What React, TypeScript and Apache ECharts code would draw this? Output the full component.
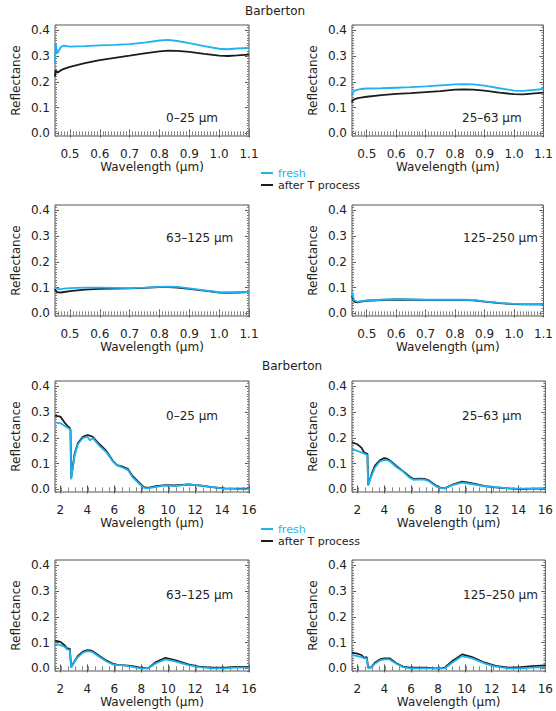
import React, { useEffect, useRef } from "react";
import * as echarts from "echarts";

// ---------- data ----------
const visX = [0.45, 0.452, 0.458, 0.47, 0.48, 0.5, 0.55, 0.6, 0.65, 0.7, 0.75, 0.8, 0.83, 0.86, 0.9, 0.95, 1.0, 1.03, 1.06, 1.1];
const fresh_0_25_vis = [0.27, 0.35, 0.31, 0.335, 0.34, 0.336, 0.338, 0.341, 0.343, 0.346, 0.352, 0.36, 0.362, 0.358, 0.35, 0.338, 0.328, 0.326, 0.329, 0.331];
const after_0_25_vis = [0.22, 0.245, 0.235, 0.245, 0.25, 0.258, 0.272, 0.284, 0.293, 0.301, 0.31, 0.318, 0.321, 0.32, 0.316, 0.308, 0.301, 0.3, 0.302, 0.305];
const fresh_25_63_vis = [0.145, 0.155, 0.165, 0.17, 0.172, 0.174, 0.175, 0.177, 0.179, 0.182, 0.186, 0.19, 0.191, 0.19, 0.185, 0.175, 0.166, 0.165, 0.168, 0.172];
const after_25_63_vis = [0.12, 0.128, 0.132, 0.137, 0.139, 0.142, 0.148, 0.153, 0.156, 0.16, 0.164, 0.17, 0.171, 0.17, 0.166, 0.158, 0.152, 0.151, 0.154, 0.158];
const fresh_63_125_vis = [0.1, 0.098, 0.095, 0.094, 0.096, 0.098, 0.1, 0.1, 0.099, 0.098, 0.1, 0.103, 0.104, 0.103, 0.097, 0.089, 0.082, 0.081, 0.082, 0.083];
const after_63_125_vis = [0.095, 0.088, 0.082, 0.081, 0.083, 0.086, 0.092, 0.095, 0.096, 0.097, 0.099, 0.102, 0.102, 0.1, 0.095, 0.088, 0.081, 0.08, 0.081, 0.083];
const fresh_125_250_vis = [0.085, 0.07, 0.05, 0.045, 0.048, 0.05, 0.053, 0.055, 0.054, 0.053, 0.053, 0.053, 0.053, 0.052, 0.047, 0.041, 0.037, 0.036, 0.035, 0.035];
const after_125_250_vis = [0.07, 0.06, 0.045, 0.043, 0.046, 0.049, 0.052, 0.054, 0.053, 0.052, 0.052, 0.052, 0.052, 0.051, 0.046, 0.04, 0.036, 0.035, 0.035, 0.035];

const irX = [1.6, 2.0, 2.3, 2.5, 2.7, 2.75, 2.8, 3.05, 3.3, 3.67, 4.0, 4.2, 4.4, 4.9, 5.4, 5.9, 6.2, 6.6, 7.0, 7.35, 7.85, 8.2, 8.5, 9.1, 9.8, 10.5, 11.5, 12.3, 13.25, 14.2, 15, 16];
const after_0_25_ir = [0.286, 0.282, 0.26, 0.247, 0.238, 0.23, 0.045, 0.136, 0.18, 0.204, 0.21, 0.208, 0.204, 0.175, 0.15, 0.11, 0.094, 0.088, 0.08, 0.052, 0.026, 0.009, 0.006, 0.013, 0.017, 0.016, 0.019, 0.016, 0.009, 0.004, 0.003, 0.003];
const fresh_0_25_ir = [0.26, 0.256, 0.247, 0.24, 0.234, 0.228, 0.039, 0.13, 0.175, 0.199, 0.204, 0.19, 0.199, 0.169, 0.145, 0.108, 0.093, 0.085, 0.076, 0.048, 0.022, 0.006, 0.004, 0.01, 0.016, 0.013, 0.019, 0.016, 0.009, 0.003, 0.002, 0.001];
const after_25_63_ir = [0.182, 0.175, 0.162, 0.143, 0.139, 0.138, 0.016, 0.058, 0.091, 0.113, 0.121, 0.119, 0.113, 0.091, 0.071, 0.049, 0.04, 0.042, 0.041, 0.034, 0.015, 0.006, 0.004, 0.019, 0.03, 0.024, 0.013, 0.008, 0.004, 0.001, 0.003, 0.003];
const fresh_25_63_ir = [0.156, 0.149, 0.143, 0.139, 0.134, 0.133, 0.017, 0.052, 0.084, 0.108, 0.114, 0.113, 0.11, 0.087, 0.069, 0.045, 0.037, 0.039, 0.038, 0.031, 0.012, 0.005, 0.004, 0.017, 0.026, 0.021, 0.012, 0.009, 0.004, 0.003, 0.003, 0.003];
const after_63_125_ir = [0.108, 0.103, 0.09, 0.077, 0.077, 0.077, 0.005, 0.028, 0.048, 0.065, 0.071, 0.07, 0.067, 0.048, 0.031, 0.018, 0.015, 0.013, 0.011, 0.009, 0.004, 0.002, 0.0, 0.025, 0.041, 0.032, 0.016, 0.007, 0.003, 0.003, 0.006, 0.006];
const fresh_63_125_ir = [0.095, 0.09, 0.084, 0.074, 0.071, 0.071, 0.003, 0.026, 0.044, 0.061, 0.067, 0.066, 0.063, 0.044, 0.028, 0.015, 0.013, 0.013, 0.009, 0.006, 0.001, 0.0, 0.0, 0.02, 0.035, 0.027, 0.013, 0.005, 0.0, 0.0, 0.003, 0.003];
const after_125_250_ir = [0.061, 0.057, 0.052, 0.041, 0.044, 0.044, 0.003, 0.005, 0.022, 0.035, 0.039, 0.039, 0.039, 0.02, 0.007, 0.003, 0.003, 0.003, 0.003, 0.002, 0.0, 0.0, 0.003, 0.03, 0.054, 0.045, 0.022, 0.01, 0.003, 0.005, 0.009, 0.012];
const fresh_125_250_ir = [0.052, 0.048, 0.044, 0.039, 0.039, 0.039, 0.0, 0.003, 0.018, 0.031, 0.035, 0.035, 0.035, 0.018, 0.005, 0.0, 0.0, 0.0, 0.0, 0.0, 0.0, 0.0, 0.0, 0.024, 0.048, 0.04, 0.019, 0.007, 0.0, 0.0, 0.003, 0.005];

const sizeLabels = ["0\u201325 \u03bcm", "25\u201363 \u03bcm", "63\u2013125 \u03bcm", "125\u2013250 \u03bcm"];
const visTicks = [0.5, 0.6, 0.7, 0.8, 0.9, 1.0, 1.1];
const irTicks = [2, 4, 6, 8, 10, 12, 14, 16];
const yTicks = [0.0, 0.1, 0.2, 0.3, 0.4];
const seriesNames = ["fresh", "after T process"];
const siteName = "Barberton";

// ---------- styles ----------
const CYAN = "#1EB2F2";
const BLACK = "#1c1c1c";
const FRAME = "#555";
const FONT = "DejaVu Sans";

const panels = [
  { x: visX, fresh: fresh_0_25_vis, after: after_0_25_vis, label: sizeLabels[0], vis: true, left: 55, top: 25, lx: 166, ly: 119 },
  { x: visX, fresh: fresh_25_63_vis, after: after_25_63_vis, label: sizeLabels[1], vis: true, left: 352, top: 25, lx: 462, ly: 119 },
  { x: visX, fresh: fresh_63_125_vis, after: after_63_125_vis, label: sizeLabels[2], vis: true, left: 55, top: 205, lx: 166, ly: 239 },
  { x: visX, fresh: fresh_125_250_vis, after: after_125_250_vis, label: sizeLabels[3], vis: true, left: 352, top: 205, lx: 463, ly: 239 },
  { x: irX, fresh: fresh_0_25_ir, after: after_0_25_ir, label: sizeLabels[0], vis: false, left: 55, top: 381, lx: 166, ly: 417 },
  { x: irX, fresh: fresh_25_63_ir, after: after_25_63_ir, label: sizeLabels[1], vis: false, left: 352, top: 381, lx: 462, ly: 417 },
  { x: irX, fresh: fresh_63_125_ir, after: after_63_125_ir, label: sizeLabels[2], vis: false, left: 55, top: 560, lx: 166, ly: 596 },
  { x: irX, fresh: fresh_125_250_ir, after: after_125_250_ir, label: sizeLabels[3], vis: false, left: 352, top: 560, lx: 463, ly: 596 },
];

function buildOption() {
  const grid: any[] = [];
  const xAxis: any[] = [];
  const yAxis: any[] = [];
  const series: any[] = [];
  const graphic: any[] = [];

  panels.forEach((p, i) => {
    grid.push({
      left: p.left, top: p.top, width: 194, height: 111,
      show: true, borderColor: FRAME, borderWidth: 1, backgroundColor: "transparent",
    });
    const xmin = p.vis ? 0.45 : 1.6;
    const xmax = p.vis ? 1.1 : 16;
    const minor = p.vis ? 0.01 : 0.5;
    const majors = p.vis ? visTicks : irTicks;
    const ymin = -0.01, ymax = 0.42;

    const xMain = (pos: string, withLabel: boolean) => ({
      type: "value", gridIndex: i, min: xmin, max: xmax, position: pos, offset: 0,
      axisLine: { show: false },
      axisTick: { show: true, inside: true, length: 4, customValues: majors, lineStyle: { color: FRAME } },
      axisLabel: {
        show: withLabel, customValues: majors, margin: 12, fontSize: 12, fontFamily: FONT, color: "#222",
        formatter: (v: number) => (p.vis ? v.toFixed(1) : String(Math.round(v))),
      },
      splitLine: { show: false },
      name: withLabel ? "Wavelength (\u03bcm)" : "",
      nameLocation: "middle", nameGap: 24,
      nameTextStyle: { fontSize: 12, fontFamily: FONT, color: "#222" },
    });
    const xMinor = (pos: string) => ({
      type: "value", gridIndex: i, min: xmin, max: xmax, interval: minor, position: pos, offset: 0,
      axisLine: { show: false },
      axisTick: { show: true, inside: true, length: 2, lineStyle: { color: "#777" } },
      axisLabel: { show: false }, splitLine: { show: false },
    });
    xAxis.push(xMain("bottom", true), xMinor("bottom"), xMain("top", false), xMinor("top"));

    const yMain = (pos: string, withLabel: boolean) => ({
      type: "value", gridIndex: i, min: ymin, max: ymax, position: pos, offset: 0,
      axisLine: { show: false },
      axisTick: { show: true, inside: true, length: 4, customValues: yTicks, lineStyle: { color: FRAME } },
      axisLabel: {
        show: withLabel, customValues: yTicks, margin: 5, fontSize: 12, fontFamily: FONT, color: "#222",
        formatter: (v: number) => v.toFixed(1),
      },
      splitLine: { show: false },
      name: withLabel ? "Reflectance" : "",
      nameLocation: "middle", nameGap: 33, nameRotate: 90,
      nameTextStyle: { fontSize: 12, fontFamily: FONT, color: "#222" },
    });
    const yMinor = (pos: string) => ({
      type: "value", gridIndex: i, min: ymin, max: ymax, interval: 0.01, position: pos, offset: 0,
      axisLine: { show: false },
      axisTick: { show: true, inside: true, length: 2, lineStyle: { color: "#777" } },
      axisLabel: { show: false }, splitLine: { show: false },
    });
    yAxis.push(yMain("left", true), yMinor("left"), yMain("right", false), yMinor("right"));

    series.push({
      type: "line", name: seriesNames[1], xAxisIndex: i * 4, yAxisIndex: i * 4,
      data: p.x.map((x, k) => [x, p.after[k]]),
      showSymbol: false, smooth: false, lineStyle: { color: BLACK, width: 1.8 }, itemStyle: { color: BLACK },
    });
    series.push({
      type: "line", name: seriesNames[0], xAxisIndex: i * 4, yAxisIndex: i * 4,
      data: p.x.map((x, k) => [x, p.fresh[k]]),
      showSymbol: false, smooth: false, lineStyle: { color: CYAN, width: 1.8 }, itemStyle: { color: CYAN },
    });

    graphic.push({
      type: "text", left: p.lx, top: p.ly - 7,
      style: { text: p.label, fontSize: 12, fontFamily: FONT, fill: "#222" },
    });
  });

  graphic.push({
    type: "text", left: 245, top: 5,
    style: { text: siteName, fontSize: 12, fontFamily: FONT, fill: "#222" },
  });
  graphic.push({
    type: "text", left: 262, top: 360,
    style: { text: siteName, fontSize: 12, fontFamily: FONT, fill: "#222" },
  });

  const legendBase = (left: number, top: number) => ({
    left, top, orient: "vertical", icon: "rect", itemWidth: 12, itemHeight: 2, itemGap: 0,
    selectedMode: false, padding: 0,
    textStyle: { fontSize: 11, fontFamily: FONT, lineHeight: 12, color: BLACK },
    data: [
      { name: seriesNames[0], textStyle: { color: CYAN } },
      { name: seriesNames[1], textStyle: { color: BLACK } },
    ],
  });

  return {
    animation: false,
    backgroundColor: "#fff",
    grid, xAxis, yAxis, series, graphic,
    legend: [legendBase(261, 167), legendBase(261, 523)],
  };
}

export default function App() {
  const ref = useRef<HTMLDivElement>(null);
  useEffect(() => {
    if (!ref.current) return;
    const chart = echarts.init(ref.current, null, { renderer: "svg" });
    chart.setOption(buildOption() as any);
    return () => chart.dispose();
  }, []);
  return (
    <div
      ref={ref}
      style={{ position: "fixed", left: 0, top: 0, width: 556, height: 711, background: "#fff" }}
    />
  );
}
